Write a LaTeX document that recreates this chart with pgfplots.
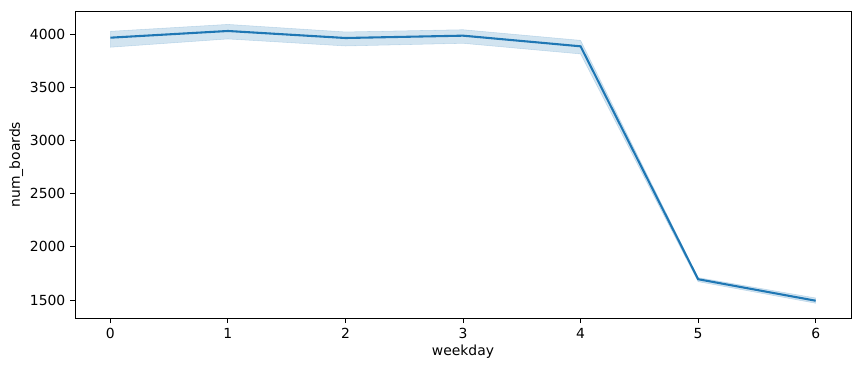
\documentclass[border=0pt]{standalone}
\usepackage{pgfplots}
\pgfplotsset{compat=1.18}
\usepgfplotslibrary{fillbetween}
\usepackage{fontspec}
\setmainfont{DejaVu Sans}
\definecolor{mplblue}{HTML}{1F77B4}
\begin{document}
\begin{tikzpicture}
\begin{axis}[
  scale only axis,
  width=558pt, height=221pt,
  xmin=-0.3, xmax=6.3, ymin=1328, ymax=4216,
  xtick={0,...,6}, ytick={1500,2000,2500,3000,3500,4000},
  axis line style={line width=0.6pt},
  tick style={black, line width=0.6pt},
  tick align=outside, major tick length=3.5pt,
  xtick pos=bottom, ytick pos=left,
  /pgf/number format/assume math mode=true,
  /pgf/number format/1000 sep={},
  tick label style={font=\fontsize{10}{12}\selectfont},
  label style={font=\fontsize{10}{12}\selectfont},
  xlabel={weekday}, ylabel={num\_boards},
  xlabel style={yshift=2pt},
  ylabel style={yshift=-2pt},
]
\addplot[name path=up, draw=none, forget plot] coordinates {(0,4025) (1,4090) (2,4019) (3,4040) (4,3940) (5,1710) (6,1519)};
\addplot[name path=lo, draw=none, forget plot] coordinates {(0,3875) (1,3953) (2,3887) (3,3912) (4,3812) (5,1672) (6,1469)};
\addplot[mplblue, fill opacity=0.2, draw=mplblue, draw opacity=0.2] fill between[of=up and lo];
\addplot[mplblue, line width=1.5pt] coordinates {(0,3965) (1,4028) (2,3962) (3,3984) (4,3884) (5,1695) (6,1493)};
\end{axis}
\path ([shift={(-54pt,-38pt)}]current axis.south west) rectangle ([shift={(5.8pt,7.9pt)}]current axis.north east);
\end{tikzpicture}
\end{document}
